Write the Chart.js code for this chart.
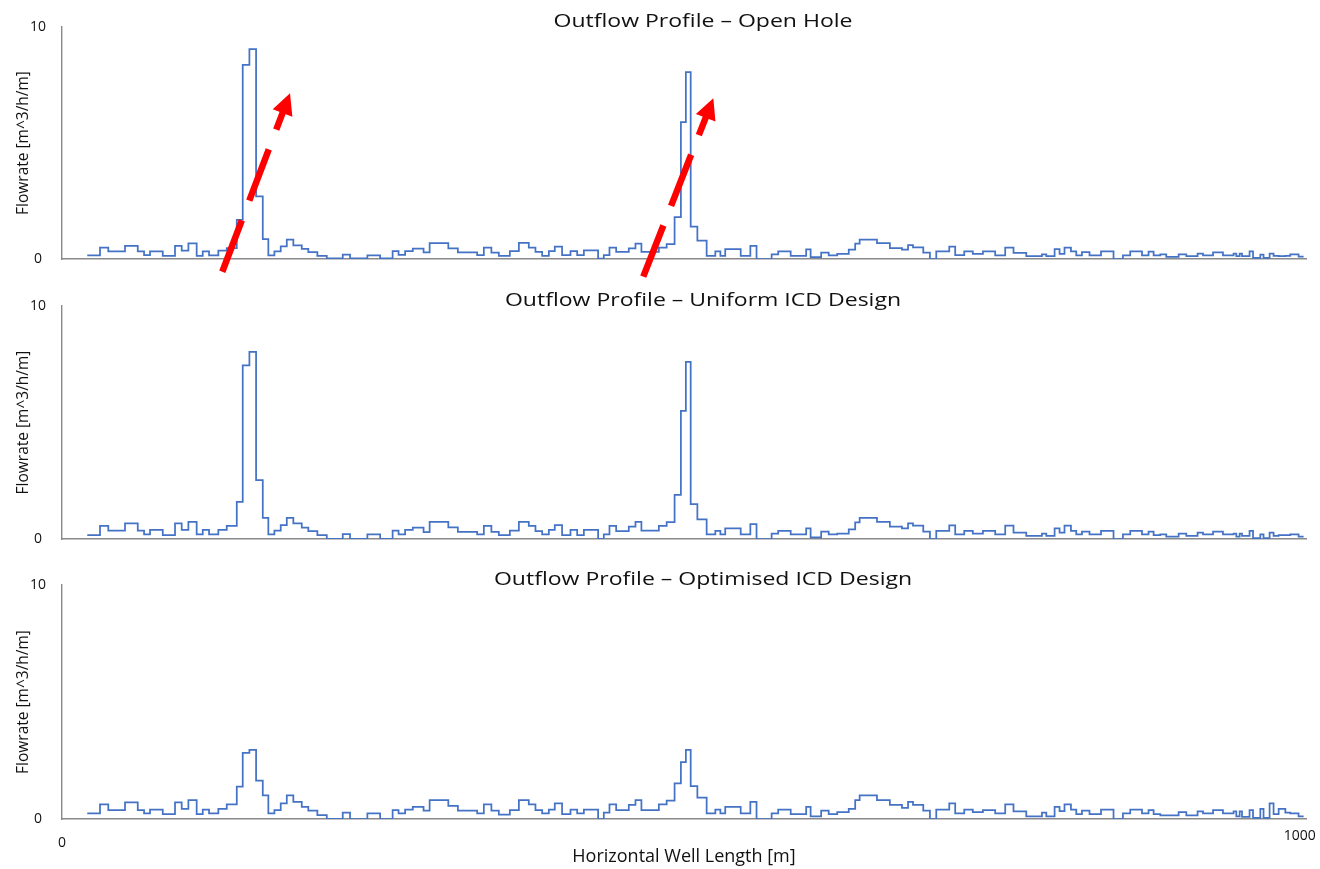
<!DOCTYPE html>
<html>
<head>
<meta charset="utf-8">
<script src="https://cdn.jsdelivr.net/npm/chart.js@4.4.1/dist/chart.umd.min.js"></script>
<style>
  html, body { margin: 0; padding: 0; background: #ffffff; }
  #wrap { position: relative; width: 1320px; height: 869px; overflow: hidden; background: #fff; }
  canvas { position: absolute; left: 0; }
</style>
</head>
<body>
<div id="wrap">
  <canvas id="c1" width="1320" height="280" style="top:0px"></canvas>
  <canvas id="c2" width="1320" height="280" style="top:280px"></canvas>
  <canvas id="c3" width="1320" height="309" style="top:560px"></canvas>
</div>
<script>
// ---------------- DATA ----------------
// Start of each well segment along the horizontal well [m]; last entry = end of well
const wellPosition = [
  20.4, 30.7, 37.4, 50.9, 61.2, 66.3, 71.1, 81.4, 91.3, 96.7,
  102.1, 108.8, 113.7, 118.8, 126.3, 133.1, 141.2, 146.0, 151.4, 156.8,
  162.2, 166.7, 171.6, 176.7, 181.6, 186.9, 193.7, 199.0, 206.3, 213.9,
  226.8, 232.7, 246.7, 257.0, 267.1, 271.9, 277.2, 283.4, 292.1, 297.0,
  312.1, 319.8, 335.4, 340.8, 346.9, 352.9, 361.8, 369.1, 377.1, 382.5,
  387.9, 393.3, 398.1, 404.0, 410.8, 416.2, 421.6, 433.1, 437.7, 442.3,
  447.7, 457.9, 463.3, 468.1, 482.2, 488.5, 494.9, 500.0, 504.0, 507.9,
  513.3, 520.8, 527.8, 531.9, 535.8, 548.3, 556.1, 561.1, 573.3, 578.6,
  588.7, 601.2, 604.8, 613.3, 619.4, 626.3, 635.6, 640.8, 644.4, 658.4,
  668.8, 678.6, 683.5, 687.5, 695.8, 701.2, 706.3, 716.8, 721.6, 728.9,
  735.8, 744.0, 753.9, 762.0, 768.7, 779.0, 791.7, 795.2, 801.9, 805.9,
  809.9, 815.1, 819.4, 824.0, 830.1, 839.4, 849.5, 857.1, 863.0, 872.5,
  877.8, 881.9, 887.3, 892.1, 902.1, 908.3, 917.4, 921.8, 929.9, 937.9,
  946.5, 948.7, 951.4, 953.3, 959.4, 962.2, 968.1, 970.7, 975.6, 978.8,
  982.9, 988.3, 992.3, 999.0, 1003.1
];

// Outflow rate per segment [m^3/h/m]
const openHole = [
  0.16, 0.49, 0.33, 0.57, 0.33, 0.17, 0.33, 0.14, 0.57, 0.36,
  0.67, 0.14, 0.33, 0.16, 0.36, 0.47, 1.69, 8.37, 9.05, 2.70,
  0.86, 0.16, 0.33, 0.54, 0.83, 0.59, 0.44, 0.30, 0.14, 0.03,
  0.19, 0.03, 0.16, 0.03, 0.34, 0.18, 0.34, 0.45, 0.29, 0.68,
  0.46, 0.29, 0.17, 0.49, 0.28, 0.14, 0.34, 0.69, 0.49, 0.31,
  0.14, 0.34, 0.53, 0.17, 0.34, 0.17, 0.37, 0.02, 0.17, 0.49,
  0.31, 0.46, 0.66, 0.31, 0.49, 0.64, 1.81, 5.90, 8.06, 1.40,
  0.79, 0.14, 0.33, 0.14, 0.43, 0.14, 0.57, 0.00, 0.20, 0.33,
  0.14, 0.42, 0.08, 0.27, 0.16, 0.22, 0.40, 0.66, 0.83, 0.68,
  0.47, 0.40, 0.60, 0.50, 0.27, 0.00, 0.33, 0.53, 0.17, 0.33,
  0.22, 0.33, 0.16, 0.49, 0.26, 0.12, 0.20, 0.12, 0.43, 0.22,
  0.49, 0.33, 0.16, 0.30, 0.16, 0.33, 0.00, 0.16, 0.33, 0.16,
  0.32, 0.16, 0.20, 0.09, 0.20, 0.12, 0.23, 0.16, 0.29, 0.16,
  0.23, 0.12, 0.23, 0.12, 0.33, 0.05, 0.19, 0.05, 0.23, 0.14,
  0.12, 0.14, 0.20, 0.10
];

const uniformICD = [
  0.17, 0.56, 0.36, 0.67, 0.36, 0.20, 0.39, 0.17, 0.67, 0.39,
  0.74, 0.20, 0.39, 0.20, 0.39, 0.56, 1.59, 7.45, 8.03, 2.53,
  0.91, 0.20, 0.36, 0.60, 0.91, 0.67, 0.49, 0.34, 0.17, 0.01,
  0.21, 0.01, 0.20, 0.01, 0.36, 0.20, 0.39, 0.49, 0.30, 0.74,
  0.50, 0.31, 0.20, 0.56, 0.31, 0.17, 0.36, 0.74, 0.56, 0.34,
  0.20, 0.39, 0.60, 0.17, 0.39, 0.17, 0.39, 0.01, 0.20, 0.56,
  0.34, 0.53, 0.73, 0.36, 0.56, 0.72, 1.89, 5.50, 7.60, 1.50,
  0.84, 0.20, 0.35, 0.20, 0.46, 0.20, 0.64, 0.00, 0.23, 0.35,
  0.20, 0.46, 0.07, 0.32, 0.20, 0.23, 0.41, 0.71, 0.91, 0.74,
  0.53, 0.46, 0.67, 0.57, 0.32, 0.00, 0.35, 0.59, 0.20, 0.35,
  0.23, 0.35, 0.20, 0.57, 0.27, 0.13, 0.23, 0.13, 0.46, 0.27,
  0.57, 0.35, 0.20, 0.32, 0.20, 0.35, 0.00, 0.20, 0.35, 0.20,
  0.32, 0.17, 0.20, 0.10, 0.23, 0.13, 0.27, 0.20, 0.32, 0.20,
  0.23, 0.10, 0.23, 0.13, 0.35, 0.04, 0.20, 0.04, 0.27, 0.13,
  0.17, 0.17, 0.20, 0.10
];

const optimisedICD = [
  0.24, 0.63, 0.38, 0.71, 0.38, 0.24, 0.40, 0.21, 0.71, 0.43,
  0.81, 0.21, 0.40, 0.24, 0.43, 0.63, 1.38, 2.83, 2.95, 1.64,
  1.01, 0.24, 0.38, 0.67, 1.01, 0.73, 0.52, 0.36, 0.17, 0.01,
  0.27, 0.00, 0.24, 0.00, 0.38, 0.24, 0.40, 0.52, 0.36, 0.81,
  0.56, 0.36, 0.24, 0.63, 0.36, 0.19, 0.38, 0.81, 0.62, 0.38,
  0.24, 0.40, 0.67, 0.21, 0.40, 0.24, 0.40, 0.00, 0.27, 0.63,
  0.38, 0.60, 0.81, 0.38, 0.63, 0.78, 1.52, 2.43, 2.95, 1.41,
  0.91, 0.24, 0.40, 0.24, 0.52, 0.24, 0.73, 0.00, 0.24, 0.40,
  0.21, 0.52, 0.11, 0.36, 0.21, 0.29, 0.43, 0.81, 1.01, 0.81,
  0.60, 0.48, 0.73, 0.60, 0.36, 0.00, 0.40, 0.67, 0.24, 0.40,
  0.29, 0.38, 0.24, 0.63, 0.33, 0.11, 0.27, 0.11, 0.52, 0.34,
  0.63, 0.40, 0.21, 0.36, 0.21, 0.40, 0.00, 0.24, 0.40, 0.24,
  0.38, 0.21, 0.16, 0.16, 0.29, 0.16, 0.33, 0.24, 0.38, 0.24,
  0.33, 0.11, 0.33, 0.09, 0.38, 0.05, 0.43, 0.05, 0.67, 0.21,
  0.43, 0.27, 0.24, 0.11
];

const panelTitles = [
  'Outflow Profile \u2013 Open Hole',
  'Outflow Profile \u2013 Uniform ICD Design',
  'Outflow Profile \u2013 Optimised ICD Design'
];
const yTickValues = [0, 10];
const xTickValues = [0, 1000];
const yAxisTitle = 'Flowrate [m^3/h/m]';
const xAxisTitle = 'Horizontal Well Length [m]';

// Red annotation arrows on the open-hole panel, in data units [m, m^3/h/m]
const arrowTail = [[129.5, -0.55], [469.6, -0.76]];
const arrowTip  = [[184.2, 7.14], [526.2, 6.93]];

// ---------------- STYLE ----------------
const FONT = '"Open Sans", "Liberation Sans", sans-serif';
const LINE_BLUE = '#4472C4';
const AXIS_GREY = '#8a8a8a';
const TEXT_COL = '#111111';

function toPoints(values) {
  return wellPosition.map((x, i) => ({ x: x, y: values[Math.min(i, values.length - 1)] }));
}

const panelTitlePlugin = {
  id: 'panelTitle',
  afterDraw(chart, args, opts) {
    if (!opts || !opts.text) return;
    const ctx = chart.ctx;
    ctx.save();
    ctx.font = '19px ' + FONT;
    const refW = ctx.measureText(panelTitles[0]).width;
    const sx = opts.refWidth / refW;
    ctx.translate(opts.centerX, chart.chartArea.top);
    ctx.scale(sx, 1);
    ctx.textAlign = 'center';
    ctx.textBaseline = 'alphabetic';
    ctx.fillStyle = TEXT_COL;
    ctx.fillText(opts.text, 0, -0.5);
    ctx.restore();
  }
};

const arrowPlugin = {
  id: 'redArrows',
  afterDraw(chart, args, opts) {
    if (!opts || !opts.show) return;
    const ctx = chart.ctx;
    const xs = chart.scales.x, ys = chart.scales.y;
    ctx.save();
    for (let k = 0; k < arrowTail.length; k++) {
      const x0 = xs.getPixelForValue(arrowTail[k][0]);
      const y0 = ys.getPixelForValue(arrowTail[k][1]);
      const x1 = xs.getPixelForValue(arrowTip[k][0]);
      const y1 = ys.getPixelForValue(arrowTip[k][1]);
      const dx = x1 - x0, dy = y1 - y0;
      const len = Math.hypot(dx, dy);
      const ux = dx / len, uy = dy / len;
      const headLen = 21, headHalf = 10.5;
      const bx = x1 - ux * headLen, by = y1 - uy * headLen;
      ctx.strokeStyle = '#ff0000';
      ctx.lineWidth = 6.5;
      ctx.lineCap = 'butt';
      ctx.setLineDash([55, 21]);
      ctx.beginPath();
      ctx.moveTo(x0, y0);
      ctx.lineTo(bx + ux * 1, by + uy * 1);
      ctx.stroke();
      ctx.setLineDash([]);
      ctx.fillStyle = '#ff0000';
      ctx.beginPath();
      ctx.moveTo(x1, y1);
      ctx.lineTo(bx - uy * headHalf, by + ux * headHalf);
      ctx.lineTo(bx + uy * headHalf, by - ux * headHalf);
      ctx.closePath();
      ctx.fill();
    }
    ctx.restore();
  }
};

const panels = [
  { id: 'c1', series: openHole,     title: panelTitles[0], padTop: 27, padBottom: 21, showX: false, arrows: true },
  { id: 'c2', series: uniformICD,   title: panelTitles[1], padTop: 26, padBottom: 21, showX: false, arrows: false },
  { id: 'c3', series: optimisedICD, title: panelTitles[2], padTop: 25, padBottom: 0,  showX: true,  arrows: false }
];

panels.forEach(p => {
  new Chart(document.getElementById(p.id), {
    type: 'line',
    data: {
      datasets: [{
        data: toPoints(p.series),
        borderColor: LINE_BLUE,
        borderWidth: 1.75,
        pointRadius: 0,
        stepped: 'before',
        fill: false,
        tension: 0
      }]
    },
    options: {
      responsive: false,
      animation: false,
      devicePixelRatio: 1,
      layout: { padding: { left: 0, right: 14, top: p.padTop, bottom: p.padBottom } },
      plugins: {
        legend: { display: false },
        tooltip: { enabled: false },
        title: { display: false },
        panelTitle: { text: p.title, centerX: 703, refWidth: 299 },
        redArrows: { show: p.arrows }
      },
      scales: {
        x: {
          type: 'linear',
          min: 0,
          max: 1005,
          afterBuildTicks: s => { s.ticks = xTickValues.map(v => ({ value: v })); },
          afterFit: s => { s.height = p.showX ? 50 : 0; s.paddingLeft = 0; s.paddingRight = 0; },
          grid: { display: false, drawTicks: false },
          border: { display: true, color: AXIS_GREY, width: 1.6 },
          ticks: {
            display: p.showX,
            autoSkip: false,
            maxRotation: 0,
            padding: 9,
            color: TEXT_COL,
            callback: v => String(v),
            font: c => ({ family: FONT, size: 14, lineHeight: (c.tick && c.tick.value === 0) ? 2.1 : 1.2 })
          },
          title: {
            display: p.showX,
            text: xAxisTitle,
            color: TEXT_COL,
            font: { family: FONT, size: 18, lineHeight: 1.2 },
            padding: { top: 0, bottom: 1 }
          }
        },
        y: {
          min: 0,
          max: 10,
          afterBuildTicks: s => { s.ticks = yTickValues.map(v => ({ value: v })); },
          afterFit: s => { s.width = 62; s.paddingTop = 0; s.paddingBottom = 0; },
          grid: { display: false, drawTicks: false },
          border: { display: true, color: AXIS_GREY, width: 1.4 },
          ticks: {
            crossAlign: 'center',
            padding: 16,
            color: TEXT_COL,
            callback: v => String(v),
            font: { family: FONT, size: 14 }
          },
          title: {
            display: true,
            text: yAxisTitle,
            color: TEXT_COL,
            font: { family: FONT, size: 15.5, lineHeight: 1.2 },
            padding: { top: 14, bottom: 0 }
          }
        }
      }
    },
    plugins: [panelTitlePlugin, arrowPlugin]
  });
});
</script>
</body>
</html>
